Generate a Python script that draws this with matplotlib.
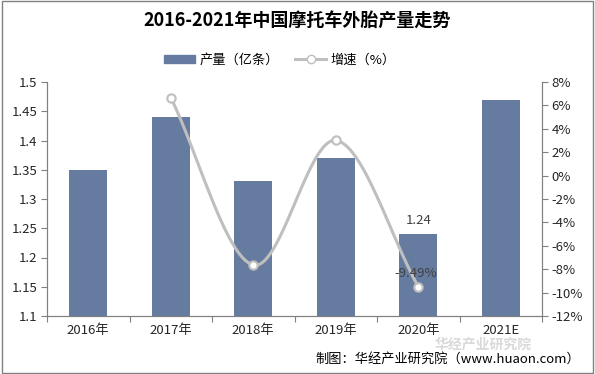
import numpy as np
import matplotlib.pyplot as plt
from matplotlib.patches import Rectangle, Patch
from matplotlib.lines import Line2D

plt.rcParams['font.family'] = ['Noto Sans CJK SC', 'DejaVu Sans']

years = ['2016年', '2017年', '2018年', '2019年', '2020年', '2021E']
output = [1.35, 1.44, 1.33, 1.37, 1.24, 1.47]
growth_years = [1, 2, 3, 4]
growth = [6.67, -7.64, 3.01, -9.49]


def smooth(xs, ys, n=40):
    # catmull-rom style smoothing, similar to excel smooth line
    xs = np.asarray(xs, float)
    ys = np.asarray(ys, float)
    px = np.concatenate([[2 * xs[0] - xs[1]], xs, [2 * xs[-1] - xs[-2]]])
    py = np.concatenate([[2 * ys[0] - ys[1]], ys, [2 * ys[-1] - ys[-2]]])
    ox, oy = [], []
    for i in range(1, len(px) - 2):
        t = np.linspace(0, 1, n)
        for p, o in ((px, ox), (py, oy)):
            p0, p1, p2, p3 = p[i - 1], p[i], p[i + 1], p[i + 2]
            o.extend(0.5 * (2 * p1 + (-p0 + p2) * t + (2 * p0 - 5 * p1 + 4 * p2 - p3) * t ** 2
                            + (-p0 + 3 * p1 - 3 * p2 + p3) * t ** 3))
    return np.array(ox), np.array(oy)


fig = plt.figure(figsize=(5.95, 3.74), dpi=100)
fig.patches.append(Rectangle((0.003, 0.003), 0.994, 0.994, transform=fig.transFigure,
                             fill=False, edgecolor='#808080', linewidth=1))
ax = fig.add_axes([47 / 595, 1 - 316 / 374, 495 / 595, 234 / 374])
ax2 = ax.twinx()

x = np.arange(len(years))
bar_color = '#667BA0'
ax.bar(x, output, width=0.46, color=bar_color, zorder=2)
ax.set_ylim(1.1, 1.5)
ax.set_yticks(np.arange(1.1, 1.501, 0.05))
ax.set_yticklabels(['1.1', '1.15', '1.2', '1.25', '1.3', '1.35', '1.4', '1.45', '1.5'])
ax.set_xlim(-0.5, len(years) - 0.5)
ax.set_xticks(np.arange(-0.5, len(years), 1))
ax.set_xticklabels([])
ax.set_xticks(x, minor=True)
ax.set_xticklabels(years, minor=True)
ax.tick_params(axis='x', which='minor', length=0, pad=6, labelsize=9.5, labelcolor='#262626')
ax.tick_params(axis='x', which='major', length=4, color='#808080')
ax.tick_params(axis='y', length=4, color='#808080', labelsize=9.5, pad=3, labelcolor='#262626')
ax.spines['top'].set_visible(False)
ax2.spines['top'].set_visible(False)
for sp in ['left', 'bottom', 'right']:
    ax.spines[sp].set_color('#808080')
    ax2.spines[sp].set_color('#808080')

sx, sy = smooth(growth_years, growth)
ax2.plot(sx, sy, color='#BFBFBF', linewidth=2.2, zorder=3)
ax2.plot(growth_years, growth, linestyle='none', marker='o', markersize=6,
         markerfacecolor='white', markeredgecolor='#BFBFBF', markeredgewidth=1.5, zorder=4)
ax2.set_ylim(-12, 8)
ax2.set_yticks(np.arange(-12, 8.1, 2))
ax2.set_yticklabels([f'{v}%' for v in range(-12, 9, 2)])
ax2.tick_params(axis='y', length=4, color='#808080', labelsize=9.5, pad=3, labelcolor='#262626')

ax.text(4, output[4] + 0.012, f'{output[4]:.2f}', ha='center', va='bottom', fontsize=9.5, color='#404040')
ax2.text(growth_years[-1] - 0.03, growth[-1] + 0.6, f'{growth[-1]:.2f}%', ha='center', va='bottom',
         fontsize=9.5, color='#404040', zorder=5)

fig.text(0.5, 1 - 20 / 374, '2016-2021年中国摩托车外胎产量走势', ha='center', va='center',
         fontsize=13, fontweight='bold', color='#000000')

# legend
handles = [Patch(color=bar_color, label='产量（亿条）'),
           Line2D([0], [0], color='#BFBFBF', linewidth=2.2, marker='o', markersize=6,
                  markerfacecolor='white', markeredgecolor='#BFBFBF', label='增速（%）')]
fig.legend(handles=handles, loc='center', bbox_to_anchor=(0.47, 1 - 60 / 374), ncol=2,
           frameon=False, fontsize=9.5, handlelength=2.4, handleheight=0.6,
           columnspacing=1.2, handletextpad=0.3)

fig.text(0.73, 1 - 345 / 374, '华经产业研究院', ha='left', va='center', fontsize=10,
         fontweight='bold', color='#D9D9D9', zorder=0)
fig.text(0.975, 1 - 359 / 374, '制图：华经产业研究院（www.huaon.com）', ha='right', va='center',
         fontsize=9.5, color='#000000')

fig.savefig('out.png', dpi=100)
